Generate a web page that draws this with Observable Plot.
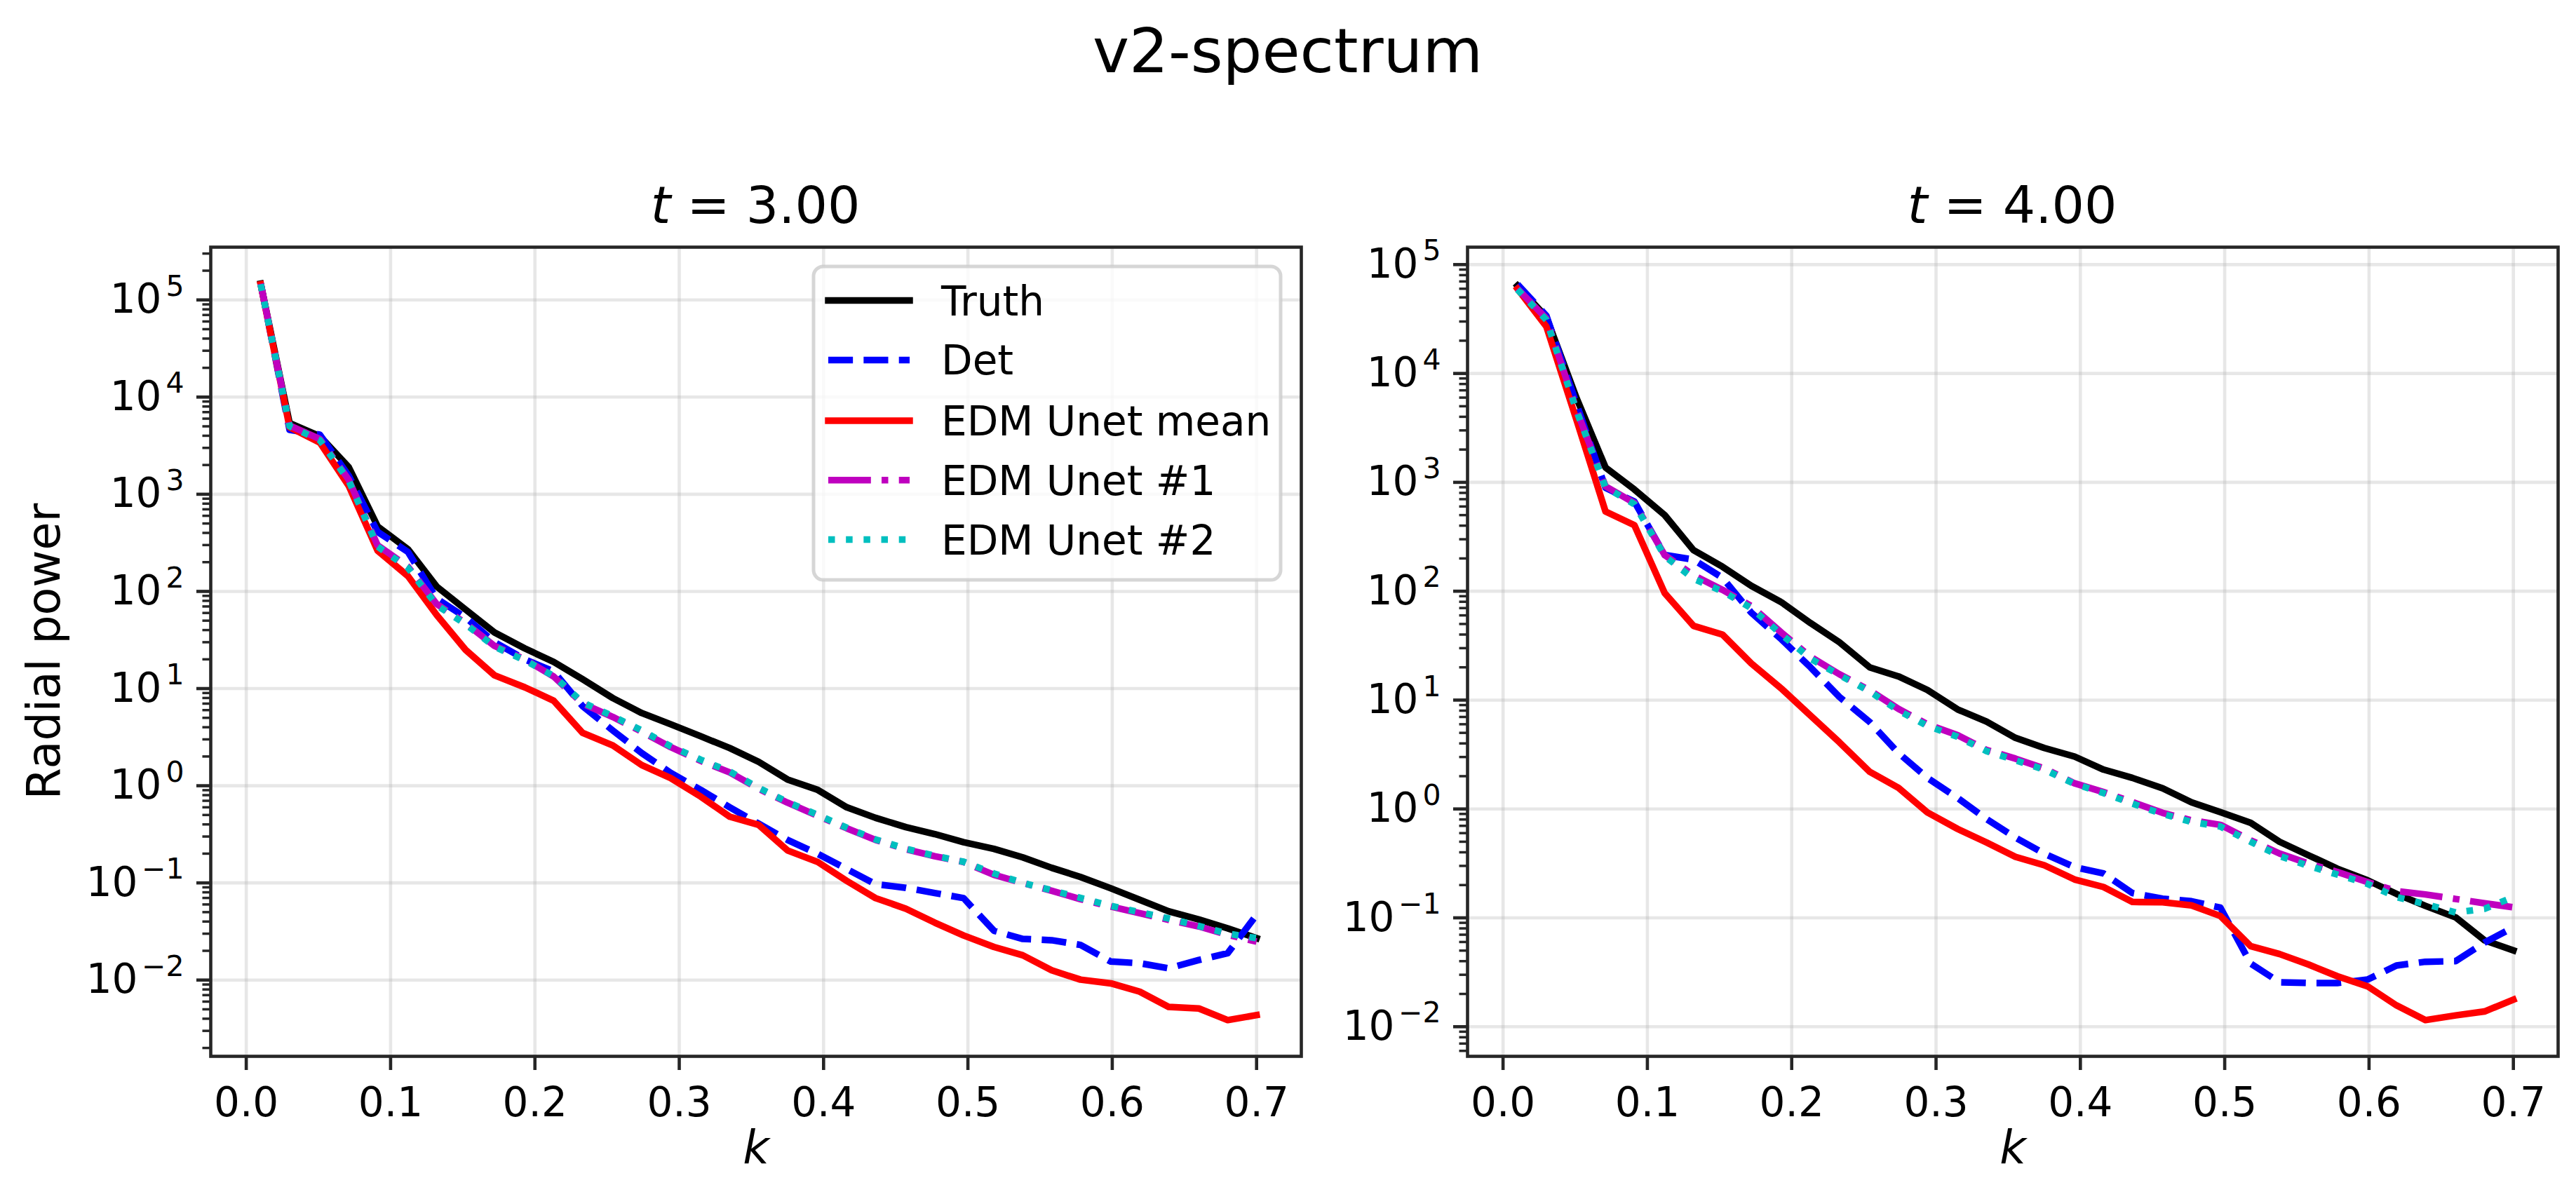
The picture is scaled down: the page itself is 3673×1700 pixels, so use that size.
<!DOCTYPE html>
<html><head><meta charset="utf-8">
<script src="https://cdn.jsdelivr.net/npm/d3@7"></script>
<script src="https://cdn.jsdelivr.net/npm/@observablehq/plot@0.6"></script>
<style>
html,body{margin:0;padding:0;background:#fff;}
#fig{position:relative;width:3673px;height:1700px;background:#fff;font-family:"DejaVu Sans",sans-serif;color:#000;overflow:hidden;}
#fig > svg{position:absolute;top:0;}
</style></head><body><div id="fig"></div>
<script>
// ---- data ----
const k = [0.010,0.030,0.051,0.071,0.091,0.112,0.132,0.152,0.172,0.193,0.213,0.233,0.254,0.274,0.294,0.315,0.335,0.355,0.375,0.396,0.416,0.436,0.457,0.477,0.497,0.518,0.538,0.558,0.578,0.599,0.619,0.639,0.660,0.680,0.700];

const truth3 = [1.47e5,5.4e3,3.96e3,1.9e3,467,272,112,65,37.8,25.9,18.8,12.5,7.98,5.6,4.3,3.22,2.44,1.76,1.16,0.905,0.60,0.467,0.375,0.318,0.262,0.224,0.183,0.143,0.115,0.088,0.067,0.051,0.042,0.034,0.027];
const det3 = [1.47e5,4.6e3,4.1e3,1.55e3,410,255,84,54,30,20,15,6.6,3.7,2.17,1.36,0.905,0.60,0.407,0.277,0.199,0.139,0.097,0.089,0.0787,0.0697,0.0322,0.0265,0.0257,0.023,0.0155,0.0149,0.0132,0.0161,0.0189,0.0469];
const mean3 = [1.45e5,4.9e3,3.4e3,1.22e3,263,144,57,25,13.7,10.3,7.5,3.5,2.6,1.63,1.2,0.77,0.48,0.396,0.216,0.164,0.105,0.0697,0.0543,0.039,0.0288,0.0219,0.018,0.0126,0.0101,0.00925,0.0076,0.0053,0.0051,0.00387,0.00436];
const edm1_3 = [1.47e5,5.1e3,3.7e3,1.41e3,298,180,74,47,27.5,20,13.3,7.0,5.1,3.6,2.5,1.8,1.37,0.93,0.67,0.49,0.365,0.277,0.222,0.188,0.164,0.121,0.0997,0.083,0.068,0.057,0.0488,0.0417,0.0356,0.0292,0.0249];
const edm2_3 = [1.45e5,5.0e3,3.6e3,1.38e3,290,175,72,46,27,19.5,13.5,7.2,5.2,3.7,2.55,1.85,1.4,0.95,0.68,0.5,0.37,0.28,0.225,0.19,0.165,0.125,0.1,0.084,0.07,0.058,0.05,0.043,0.036,0.03,0.027];

const truth4 = [6.4e4,3.3e4,5.9e3,1.37e3,860,500,238,168,112,79,51,34,20,16.5,12.4,8.2,6.35,4.5,3.63,3.03,2.3,1.93,1.55,1.15,0.935,0.745,0.50,0.376,0.283,0.221,0.166,0.129,0.101,0.0622,0.0503];
const det4 = [6.6e4,3.4e4,5.2e3,890,665,215,195,133,63.5,36,20,10.7,6.3,3.26,1.93,1.26,0.807,0.546,0.389,0.292,0.256,0.169,0.15,0.142,0.124,0.038,0.0256,0.0252,0.0252,0.0271,0.0365,0.0395,0.040,0.0593,0.0817];
const mean4 = [6.0e4,2.7e4,3.7e3,540,404,96,48,40,21.7,12.7,7.2,4.1,2.2,1.56,0.93,0.655,0.492,0.363,0.304,0.225,0.192,0.14,0.139,0.13,0.104,0.055,0.0465,0.0373,0.0291,0.0235,0.0157,0.0115,0.0127,0.0138,0.0177];
const edm1_4 = [6.0e4,3.2e4,4.6e3,920,645,215,140,103,73,41.6,25,17.3,12.3,8.3,6.0,4.76,3.48,2.9,2.36,1.72,1.43,1.16,0.92,0.787,0.715,0.515,0.39,0.315,0.264,0.213,0.176,0.164,0.149,0.136,0.125];
const edm2_4 = [5.9e4,3.1e4,4.5e3,900,630,210,130,100,70,40,24,17,12,8.0,5.8,4.6,3.4,2.8,2.3,1.7,1.4,1.12,0.9,0.76,0.69,0.5,0.37,0.3,0.25,0.205,0.155,0.134,0.112,0.121,0.155];

const seriesNames = ["Truth","Det","EDM Unet mean","EDM Unet #1","EDM Unet #2"];
const xTicks = [0,0.1,0.2,0.3,0.4,0.5,0.6,0.7];
const xTickLabels = ["0.0","0.1","0.2","0.3","0.4","0.5","0.6","0.7"];
const yMajorPos = [1,10,100,1e3,1e4,1e5];
const yMajorPosExp = ["0","1","2","3","4","5"];
const yMajorNeg = [0.1,0.01];
const yMajorNegExp = ["\u22121","\u22122"];
const panelTitles = ["3.00","4.00"];
const suptitle = "v2-spectrum";
const yLabel = "Radial power";
const xLabel = "k";

// ---- styling ----
const LW = 9.5;
const styles = [
  {stroke:"#000000", dash:null, cap:"square"},
  {stroke:"#0000ff", dash:[3.7*LW,1.6*LW].join(","), cap:"butt"},
  {stroke:"#ff0000", dash:null, cap:"square"},
  {stroke:"#bf00bf", dash:[6.4*LW,1.6*LW,1*LW,1.6*LW].join(","), cap:"butt"},
  {stroke:"#00bfbf", dash:[1*LW,1.65*LW].join(","), cap:"butt"}
];
const INK = "#262626";
const FS = 58;      // tick labels, legend
const LFS = 65;     // axis labels
const TFS = 73;     // axes titles

function minorTicks(lo, hi) {
  const out = [];
  for (let e = -4; e <= 6; e++) for (let m = 2; m <= 9; m++) {
    const v = m * Math.pow(10, e);
    if (v >= lo && v <= hi) out.push(v);
  }
  return out;
}

function panel({svgLeft, svgWidth, marginLeft, marginRight, yDomain, values}) {
  const lines = values.map((vals, i) => {
    const rows = k.map((x, j) => ({k: x, v: vals[j]}));
    const s = styles[i];
    return Plot.line(rows, {x: "k", y: "v", stroke: s.stroke, strokeWidth: LW,
      strokeDasharray: s.dash, strokeLinecap: s.cap, strokeLinejoin: "round"});
  });
  const minors = minorTicks(yDomain[0], yDomain[1]);
  const chart = Plot.plot({
    width: svgWidth, height: 1700,
    marginLeft, marginRight, marginTop: 352, marginBottom: 194,
    x: {domain: [-0.0246, 0.731]},
    y: {type: "log", domain: yDomain},
    style: {fontFamily: "DejaVu Sans", fontSize: FS + "px", color: "#000", background: "transparent", overflow: "visible"},
    marks: [
      Plot.gridX(xTicks, {stroke: "#b0b0b0", strokeOpacity: 0.3, strokeWidth: 4.6}),
      Plot.gridY([...yMajorNeg, ...yMajorPos], {stroke: "#b0b0b0", strokeOpacity: 0.3, strokeWidth: 4.6}),
      ...lines,
      Plot.frame({stroke: INK, strokeWidth: 4.6}),
      Plot.axisX(xTicks, {tickSize: 20, tickPadding: 24, stroke: INK, strokeWidth: 4.6,
        tickFormat: d => xTickLabels[xTicks.indexOf(d)], label: null, fontSize: FS}),
      Plot.axisY([...yMajorNeg, ...yMajorPos], {tickSize: 20, stroke: INK, strokeWidth: 4.6, tickFormat: () => "", label: null}),
      Plot.axisY(minors, {tickSize: 11.5, stroke: INK, strokeWidth: 3.5, tickFormat: () => "", label: null}),
      Plot.text(yMajorPos, {frameAnchor: "left", y: d => d, text: () => "10", textAnchor: "end", dx: -70, fontSize: FS}),
      Plot.text(yMajorPos, {frameAnchor: "left", y: d => d, text: (d, i) => yMajorPosExp[i], textAnchor: "end", dx: -38, dy: -19, fontSize: 41}),
      Plot.text(yMajorNeg, {frameAnchor: "left", y: d => d, text: () => "10", textAnchor: "end", dx: -104, fontSize: FS}),
      Plot.text(yMajorNeg, {frameAnchor: "left", y: d => d, text: (d, i) => yMajorNegExp[i], textAnchor: "end", dx: -38, dy: -19, fontSize: 41}),
      Plot.text([xLabel], {frameAnchor: "bottom", text: d => d, dy: 152, fontStyle: "italic", fontSize: LFS})
    ]
  });
  chart.style.left = svgLeft + "px";
  return chart;
}

const fig = document.getElementById("fig");
const left = panel({svgLeft: 0, svgWidth: 1960, marginLeft: 300, marginRight: 105,
  yDomain: [Math.pow(10,-2.785), Math.pow(10,5.543)],
  values: [truth3, det3, mean3, edm1_3, edm2_3]});
const right = panel({svgLeft: 1960, svgWidth: 1713, marginLeft: 132, marginRight: 26,
  yDomain: [Math.pow(10,-2.272), Math.pow(10,5.16)],
  values: [truth4, det4, mean4, edm1_4, edm2_4]});
fig.appendChild(left);
fig.appendChild(right);

// ---- titles, y label and legend overlay ----
const NS = "http://www.w3.org/2000/svg";
const ov = document.createElementNS(NS, "svg");
ov.setAttribute("width", 3673); ov.setAttribute("height", 1700);
ov.style.left = "0px"; ov.style.fontFamily = "DejaVu Sans";
function txt(x, y, s, size, anchor, extra) {
  const t = document.createElementNS(NS, "text");
  t.setAttribute("x", x); t.setAttribute("y", y);
  t.setAttribute("font-size", size); t.setAttribute("text-anchor", anchor || "start");
  t.setAttribute("fill", "#000");
  if (extra) for (const a in extra) t.setAttribute(a, extra[a]);
  t.textContent = s; ov.appendChild(t); return t;
}
txt(1836, 103, suptitle, 88, "middle");
[[1077, panelTitles[0]], [2869, panelTitles[1]]].forEach(([cx, v]) => {
  const t = txt(cx, 318, "", TFS, "middle");
  const a = document.createElementNS(NS, "tspan"); a.setAttribute("font-style", "italic"); a.textContent = "t";
  const b = document.createElementNS(NS, "tspan"); b.textContent = " = " + v;
  t.appendChild(a); t.appendChild(b);
});
txt(0, 0, yLabel, LFS, "middle", {transform: "translate(85,929) rotate(-90)"});

// legend
const box = document.createElementNS(NS, "rect");
Object.entries({x: 1160, y: 380, width: 666, height: 447, rx: 14, fill: "#ffffff", "fill-opacity": 0.8,
  stroke: "#cccccc", "stroke-opacity": 0.8, "stroke-width": 5}).forEach(([a, v]) => box.setAttribute(a, v));
ov.appendChild(box);
const rowsY = [428.6, 513.4, 600, 684.8, 769.6];
seriesNames.forEach((name, i) => {
  const s = styles[i];
  const l = document.createElementNS(NS, "line");
  Object.entries({x1: 1181, x2: 1297, y1: rowsY[i], y2: rowsY[i], stroke: s.stroke, "stroke-width": LW,
    "stroke-linecap": s.cap}).forEach(([a, v]) => l.setAttribute(a, v));
  if (s.dash) l.setAttribute("stroke-dasharray", s.dash);
  ov.appendChild(l);
  txt(1342, rowsY[i] + 21, name, FS, "start");
});
fig.appendChild(ov);
</script></body></html>
